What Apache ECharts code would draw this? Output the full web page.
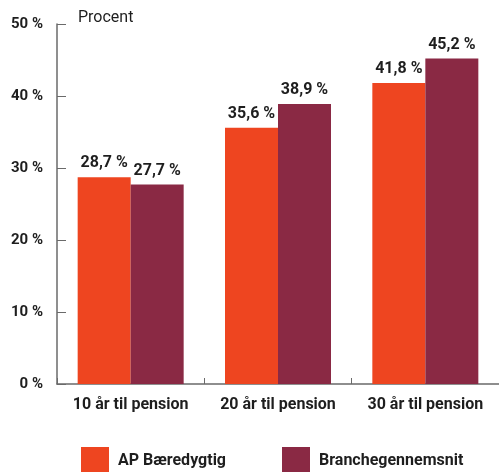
<!DOCTYPE html>
<html>
<head>
<meta charset="utf-8">
<script src="https://cdn.jsdelivr.net/npm/echarts@6/dist/echarts.min.js"></script>
<style>
  html, body { margin: 0; padding: 0; background: #fff; }
  #chart { width: 499px; height: 472px; }
</style>
</head>
<body>
<div id="chart"></div>
<script>
// data
var categories = ['10 år til pension', '20 år til pension', '30 år til pension'];
var apValues = [28.7, 35.6, 41.8];
var brancheValues = [27.7, 38.9, 45.2];
var seriesNames = ['AP Bæredygtig', 'Branchegennemsnit'];

var ORANGE = '#ee4520';
var MAROON = '#8a2944';
var TEXT = '#1e1e1e';
var AXIS = '#6a6a6a';

// 28.7 -> "28,7 %"
function fmt(v) {
    return String(v).replace('.', ',') + ' %';
}

var labelStyle = {
    show: true,
    position: 'top',
    distance: 6,
    color: TEXT,
    fontFamily: 'Roboto',
    fontWeight: 'bold',
    fontSize: 16,
    formatter: function (p) { return fmt(p.value); }
};

var option = {
    animation: false,
    textStyle: { fontFamily: 'Roboto' },
    title: {
        text: 'Procent',
        left: 73,
        top: 5,
        textStyle: { fontFamily: 'Roboto', fontWeight: 'normal', fontSize: 16, color: TEXT }
    },
    grid: {
        left: 57,
        right: 0,
        top: 24,
        height: 360,
        containLabel: false
    },
    legend: {
        left: 76,
        top: 442,
        itemWidth: 28,
        itemHeight: 28,
        itemGap: 56,
        icon: 'rect',
        textStyle: { fontFamily: 'Roboto', fontWeight: 'bold', fontSize: 16, color: TEXT, padding: [6, 0, 0, 4] },
        data: seriesNames
    },
    xAxis: {
        type: 'category',
        data: categories,
        axisLine: { lineStyle: { color: AXIS, width: 1.5 } },
        axisTick: { show: true, inside: true, length: 6, lineStyle: { color: AXIS } },
        axisLabel: {
            interval: 0,
            hideOverlap: false,
            margin: 13,
            color: TEXT,
            fontFamily: 'Roboto',
            fontWeight: 'bold',
            fontSize: 16
        }
    },
    yAxis: {
        type: 'value',
        min: 0,
        max: 50,
        interval: 10,
        axisLine: { show: true, lineStyle: { color: AXIS, width: 1.5 } },
        axisTick: { show: true, inside: true, length: 9, lineStyle: { color: AXIS } },
        splitLine: { show: false },
        axisLabel: {
            margin: 14,
            color: TEXT,
            fontFamily: 'Roboto',
            fontWeight: 'bold',
            fontSize: 15,
            formatter: function (v) { return v + ' %'; }
        }
    },
    series: [
        {
            name: seriesNames[0],
            type: 'bar',
            data: apValues,
            barWidth: 53,
            barGap: '0%',
            itemStyle: { color: ORANGE },
            label: labelStyle
        },
        {
            name: seriesNames[1],
            type: 'bar',
            data: brancheValues,
            barWidth: 53,
            itemStyle: { color: MAROON },
            label: labelStyle
        }
    ]
};

var myChart = echarts.init(document.getElementById('chart'));
myChart.setOption(option);
</script>
</body>
</html>
